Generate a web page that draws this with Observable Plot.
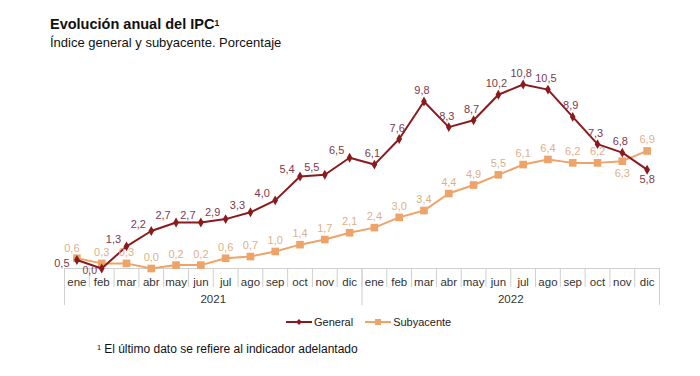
<!DOCTYPE html>
<html>
<head>
<meta charset="utf-8">
<script src="https://cdn.jsdelivr.net/npm/d3@7"></script>
<script src="https://cdn.jsdelivr.net/npm/@observablehq/plot@0.6"></script>
<style>
  html, body { margin: 0; padding: 0; background: #fff; }
  body { width: 700px; height: 376px; position: relative; overflow: hidden;
         font-family: "Liberation Sans", Arial, Helvetica, sans-serif; color: #111; }
  #title { position: absolute; left: 50px; top: 15px; font-size: 14.5px; font-weight: bold; line-height: 18px; }
  #title sup { font-size: 8.5px; vertical-align: top; position: relative; top: -1px; }
  #subtitle { position: absolute; left: 50px; top: 35px; font-size: 13px; line-height: 16px; }
  #chart { position: absolute; left: 0; top: 55px; }
  #legend { position: absolute; left: 286px; top: 315px; font-size: 11px; line-height: 14px; color: #222; display: flex; align-items: center; }
  #legend span.item { display: inline-flex; align-items: center; margin-right: 12px; }
  #legend svg { margin-right: 2px; }
  #note { position: absolute; left: 97px; top: 341px; font-size: 12px; line-height: 16px; color: #111; }
  #note sup { font-size: 7.5px; vertical-align: top; position: relative; top: -1px; margin-right: 3px; }
</style>
</head>
<body>
<div id="title">Evolución anual del IPC<sup>1</sup></div>
<div id="subtitle">Índice general y subyacente. Porcentaje</div>
<div id="chart"></div>
<div id="legend"></div>
<div id="note"><sup>1</sup>El último dato se refiere al indicador adelantado</div>
<script>
const months = ["ene","feb","mar","abr","may","jun","jul","ago","sep","oct","nov","dic"];
const years = ["2021","2022"];
const general = [0.5, 0.0, 1.3, 2.2, 2.7, 2.7, 2.9, 3.3, 4.0, 5.4, 5.5, 6.5,
                 6.1, 7.6, 9.8, 8.3, 8.7, 10.2, 10.8, 10.5, 8.9, 7.3, 6.8, 5.8];
const subyacente = [0.6, 0.3, 0.3, 0.0, 0.2, 0.2, 0.6, 0.7, 1.0, 1.4, 1.7, 2.1,
                    2.4, 3.0, 3.4, 4.4, 4.9, 5.5, 6.1, 6.4, 6.2, 6.2, 6.3, 6.9];
const seriesNames = ["General", "Subyacente"];

const colGen = "#8a1a1e", colGenLab = "#7c3a4c";
const colSub = "#eea368", colSubLab = "#dcb18a";
const gridCol = "#cfcfcf";

const labels = years.flatMap(y => months.map(m => m));
const rows = (vals, name) => vals.map((v, i) => ({i, value: v, series: name, month: labels[i], year: years[Math.floor(i / 12)]}));
const gen = rows(general, seriesNames[0]);
const sub = rows(subyacente, seriesNames[1]);
const fmt = v => d3.format(".1f")(v).replace(".", ",");

const n = general.length;
const sepTicks = d3.range(n + 1).map(i => i - 0.5);
const yearTicks = [-0.5, 11.5, 23.5];
const monthTicks = d3.range(n);
const yearLabelTicks = [5.5, 17.5];

const txt = (data, filter, opts) => Plot.text(data, {x: "i", y: "value", text: d => fmt(d.value), filter, fontSize: 11, ...opts});

const chart = Plot.plot({
  width: 700,
  height: 260,
  marginLeft: 64,
  marginRight: 41,
  marginTop: 25.6,
  marginBottom: 47,
  style: {fontFamily: '"Liberation Sans", Arial, sans-serif', fontSize: "11px", background: "transparent"},
  x: {type: "linear", domain: [-0.5, n - 0.5], axis: null, label: null},
  y: {domain: [0, 11], axis: null, label: null},
  marks: [
    Plot.ruleY([0], {stroke: gridCol}),
    Plot.axisX(sepTicks, {anchor: "bottom", label: null, tickSize: 19, tickFormat: () => "", stroke: gridCol}),
    Plot.axisX(yearTicks, {anchor: "bottom", label: null, tickSize: 37, tickFormat: () => "", stroke: gridCol}),
    Plot.axisX(monthTicks, {anchor: "bottom", label: null, tickSize: 0, tickPadding: 9, tickFormat: i => labels[i], fontSize: 11.5, fill: "#333"}),
    Plot.axisX(yearLabelTicks, {anchor: "bottom", label: null, tickSize: 0, tickPadding: 26, tickFormat: t => years[Math.floor(t / 12)], fontSize: 11.5, fill: "#333"}),
    // Subyacente
    Plot.line(sub, {x: "i", y: "value", stroke: colSub, strokeWidth: 2}),
    Plot.dot(sub, {x: "i", y: "value", symbol: "square", r: 4.3, fill: colSub, stroke: "none"}),
    // General
    Plot.line(gen, {x: "i", y: "value", stroke: colGen, strokeWidth: 2}),
    Plot.dot(gen, {x: "i", y: "value", symbol: "diamond", r: 3, fill: colGen, stroke: "none"}),
    // labels subyacente
    txt(sub, d => d.i === 0, {fill: colSubLab, dx: -5, dy: -10}),
    txt(sub, d => d.i > 0 && d.i !== 22, {fill: colSubLab, dy: -11}),
    txt(sub, d => d.i === 22, {fill: colSubLab, dy: 12}),
    // labels general
    txt(gen, d => d.i === 0, {fill: colGenLab, dx: -15, dy: 3}),
    txt(gen, d => d.i === 1, {fill: colGenLab, dx: -12, dy: 2, fontSize: 10.5}),
    txt(gen, d => d.i >= 2 && d.i <= 11, {fill: colGenLab, dx: -13, dy: -7}),
    txt(gen, d => d.i >= 12 && d.i <= 22, {fill: colGenLab, dx: -2, dy: -11}),
    txt(gen, d => d.i === 23, {fill: colGenLab, dy: 10})
  ]
});
document.getElementById("chart").appendChild(chart);

// legend
const legend = document.getElementById("legend");
const sw = (color, shape) => {
  const s = d3.create("svg").attr("width", 26).attr("height", 10);
  s.append("line").attr("x1", 0).attr("x2", 26).attr("y1", 5).attr("y2", 5).attr("stroke", color).attr("stroke-width", 2);
  if (shape === "diamond") s.append("path").attr("d", "M13,2L16,5L13,8L10,5Z").attr("fill", color);
  else s.append("rect").attr("x", 10).attr("y", 2).attr("width", 6).attr("height", 6).attr("fill", color);
  return s.node();
};
[[seriesNames[0], colGen, "diamond"], [seriesNames[1], colSub, "square"]].forEach(([name, c, shp]) => {
  const item = document.createElement("span");
  item.className = "item";
  item.appendChild(sw(c, shp));
  item.appendChild(document.createTextNode(name));
  legend.appendChild(item);
});
</script>
</body>
</html>
